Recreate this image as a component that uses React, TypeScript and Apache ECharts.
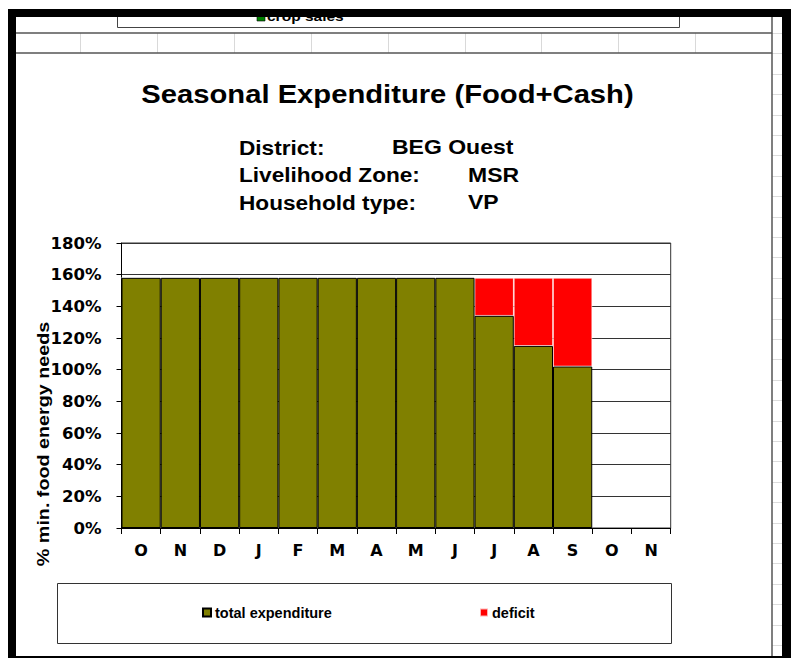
import React, { useEffect, useRef } from 'react';
import * as echarts from 'echarts';

const categories = ['O', 'N', 'D', 'J', 'F', 'M', 'A', 'M', 'J', 'J', 'A', 'S', 'O', 'N'];
const totalExpenditure = [158, 158, 158, 158, 158, 158, 158, 158, 158, 134, 115, 102, null, null];
const deficit = [0, 0, 0, 0, 0, 0, 0, 0, 0, 24, 43, 56, null, null];
const yMax = 180;
const yStep = 20;

const titleText = 'Seasonal Expenditure (Food+Cash)';
const infoLabels = ['District:', 'Livelihood Zone:', 'Household type:'];
const infoValues = ['BEG Ouest', 'MSR', 'VP'];
const yAxisName = '% min. food energy needs';
const seriesNames = ['total expenditure', 'deficit'];

const ARIAL = "'Liberation Sans', Arial, Helvetica, sans-serif";
const DEJAVU = "'DejaVu Sans', 'Liberation Sans', sans-serif";

function txt(text: string, x: number, y: number, size: number, align = 'left', sx = 1.16, extra: any = {}) {
  return {
    type: 'text',
    x,
    y,
    scaleX: sx,
    z: 10,
    ...extra,
    style: {
      text,
      fontSize: size,
      fontWeight: 'bold',
      fontFamily: ARIAL,
      fill: '#000',
      align,
      textAlign: align,
      verticalAlign: 'middle',
      textVerticalAlign: 'middle',
    },
  };
}

function line(x1: number, y1: number, x2: number, y2: number, stroke: string, lw = 1, z = 5) {
  return { type: 'line', z, shape: { x1, y1, x2, y2 }, style: { stroke, lineWidth: lw } };
}

function rect(x: number, y: number, w: number, h: number, fill: string, z = 20, stroke?: string, lw = 0) {
  return {
    type: 'rect',
    z,
    shape: { x, y, width: w, height: h },
    style: stroke ? { fill, stroke, lineWidth: lw } : { fill },
  };
}

function buildGraphic() {
  const els: any[] = [];
  for (let y = 33; y < 656; y += 20.4) {
    els.push(line(772, Math.round(y) + 0.5, 782, Math.round(y) + 0.5, '#dcdcdc', 1, 1));
  }
  [80, 157, 234, 311, 388, 465, 541, 618, 695].forEach((x) => {
    els.push(line(x + 0.5, 33, x + 0.5, 53, '#d9d9d9', 1, 1));
  });
  els.push(line(16, 33, 772, 33, '#555', 1.5, 5));
  els.push(line(16, 53, 772, 53, '#555', 1.5, 5));
  els.push(line(772, 17, 772, 656, '#555', 1.5, 5));
  els.push({
    type: 'polyline',
    z: 5,
    shape: { points: [[117.5, 10], [117.5, 27.5], [679.5, 27.5], [679.5, 10]] },
    style: { stroke: '#444', lineWidth: 1, fill: 'none' },
  });
  els.push(rect(257, 13, 8, 8, '#008000', 6, '#000', 0.6));
  els.push(txt('crop sales', 267, 16.5, 13.5, 'left', 1.15, { z: 6 }));
  els.push(rect(8, 9, 783, 8, '#000', 30));
  els.push(rect(8, 9, 8, 649, '#000', 30));
  els.push(rect(782, 9, 9, 649, '#000', 30));
  els.push(rect(8, 656, 783, 2, '#000', 30));
  els.push({
    type: 'rect',
    z: 5,
    shape: { x: 57.5, y: 583.5, width: 614, height: 60 },
    style: { fill: 'none', stroke: '#333', lineWidth: 1 },
  });
  els.push(txt(titleText, 387.5, 94, 25.5, 'center', 1.145));
  const ys = [148, 175.5, 203];
  const valX = [392, 468, 468];
  infoLabels.forEach((t, i) => {
    els.push(txt(t, 239, ys[i], 19.5, 'left', 1.16));
    els.push(txt(infoValues[i], valX[i], ys[i], 19.5, 'left', 1.18));
  });
  els.push(txt(yAxisName, 43, 444, 17, 'center', 1.16, { rotation: Math.PI / 2 }));
  return els;
}

export default function App() {
  const ref = useRef<HTMLDivElement>(null);
  useEffect(() => {
    const chart = echarts.init(ref.current!, null, { renderer: 'svg' });
    const option: any = {
      animation: false,
      backgroundColor: '#fff',
      grid: {
        left: 121.5,
        right: 121.3,
        top: 243,
        bottom: 130,
        show: true,
        borderColor: '#333',
        borderWidth: 1,
        backgroundColor: '#fff',
        containLabel: false,
      },
      legend: [
        {
          data: [seriesNames[0]],
          left: 202,
          top: 605,
          padding: 0,
          icon: 'rect',
          itemWidth: 8,
          itemHeight: 8,
          itemGap: 4,
          textStyle: { fontFamily: ARIAL, fontWeight: 'bold', fontSize: 14.5, color: '#000', padding: [0, 0, 0, -1] },
        },
        {
          data: [seriesNames[1]],
          left: 479,
          top: 605,
          padding: 0,
          icon: 'rect',
          itemWidth: 8,
          itemHeight: 8,
          textStyle: { fontFamily: ARIAL, fontWeight: 'bold', fontSize: 14.5, color: '#000', padding: [0, 0, 0, -1] },
        },
      ],
      xAxis: {
        type: 'category',
        data: categories,
        boundaryGap: true,
        axisLine: { show: true, lineStyle: { color: '#000', width: 1 } },
        axisTick: { show: true, alignWithLabel: false, length: 6, inside: false, lineStyle: { color: '#000' } },
        axisLabel: {
          interval: 0,
          margin: 14,
          fontFamily: DEJAVU,
          fontWeight: 'bold',
          fontSize: 16,
          color: '#000',
        },
        splitLine: { show: false },
      },
      yAxis: {
        type: 'value',
        min: 0,
        max: yMax,
        interval: yStep,
        axisLine: { show: true, lineStyle: { color: '#000', width: 1 } },
        axisTick: { show: true, length: 5, inside: false, lineStyle: { color: '#000' } },
        axisLabel: {
          formatter: '{value}%',
          margin: 20,
          fontFamily: DEJAVU,
          fontWeight: 'bold',
          fontSize: 16.5,
          color: '#000',
        },
        splitLine: { show: true, lineStyle: { color: '#333', width: 1 } },
      },
      series: [
        {
          name: seriesNames[0],
          type: 'bar',
          stack: 'exp',
          data: totalExpenditure,
          barCategoryGap: '0%',
          itemStyle: { color: '#808000', borderColor: '#000', borderWidth: 1 },
          z: 3,
        },
        {
          name: seriesNames[1],
          type: 'bar',
          stack: 'exp',
          data: deficit,
          barCategoryGap: '0%',
          itemStyle: { color: '#ff0000', borderColor: 'rgba(255,255,255,0.7)', borderWidth: 0.8 },
          z: 2,
        },
      ],
      graphic: { elements: buildGraphic() },
    };
    chart.setOption(option);
    return () => chart.dispose();
  }, []);
  return <div ref={ref} style={{ position: 'absolute', left: 0, top: 0, width: 792, height: 658 }} />;
}
